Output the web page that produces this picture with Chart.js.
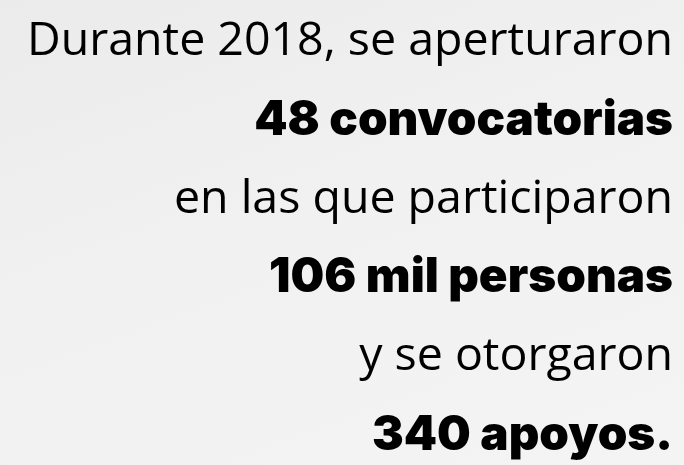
<!DOCTYPE html>
<html>
<head>
<meta charset="utf-8" />
<title>Convocatorias 2018</title>
<script src="https://cdn.jsdelivr.net/npm/chart.js@4.4.1/dist/chart.umd.min.js"></script>
<style>
	html, body { margin: 0; padding: 0; overflow: hidden; }
	body { background: linear-gradient(160deg, #ebebeb 0%, #f1f1f1 45%, #f4f4f4 100%); }
	#wrap { width: 684px; height: 465px; overflow: hidden; }
</style>
</head>
<body>
<div id="wrap"><canvas id="summary" width="684" height="475"></canvas></div>
<script>
// text of the card, one lead-in line before each figure
var leadIns = ['Durante 2018, se aperturaron', 'en las que participaron', 'y se otorgaron'];
var figures = [48, 106, 340];
var units = ['convocatorias', 'mil personas', 'apoyos.'];

var rows = [];
var isFigure = [];
for (var i = 0; i < figures.length; i++) {
	rows.push(leadIns[i]);
	isFigure.push(false);
	rows.push(figures[i] + ' ' + units[i]);
	isFigure.push(true);
}

var chart = new Chart(document.getElementById('summary'), {
	type: 'bar',
	data: {
		labels: rows,
		datasets: [{ data: [], backgroundColor: 'rgba(0,0,0,0)' }]
	},
	options: {
		indexAxis: 'y',
		responsive: false,
		animation: false,
		layout: { padding: { top: 2.5, bottom: 0, left: 0, right: 3 } },
		plugins: {
			legend: { display: false },
			tooltip: { enabled: false }
		},
		scales: {
			x: { display: false },
			y: {
				position: 'right',
				grid: { display: false },
				border: { display: false },
				afterFit: function(scale) {
					// rows fill the whole height, no extra room for the first/last label
					scale.paddingTop = 0;
					scale.paddingBottom = 0;
				},
				ticks: {
					mirror: true,
					autoSkip: false,
					padding: 0,
					color: '#000',
					font: function(ctx) {
						if (isFigure[ctx.index]) {
							return { family: 'Inter', weight: '900', size: 47.5 };
						}
						return { family: 'Open Sans', weight: '400', size: 46.5 };
					}
				}
			}
		}
	}
});
</script>
</body>
</html>
